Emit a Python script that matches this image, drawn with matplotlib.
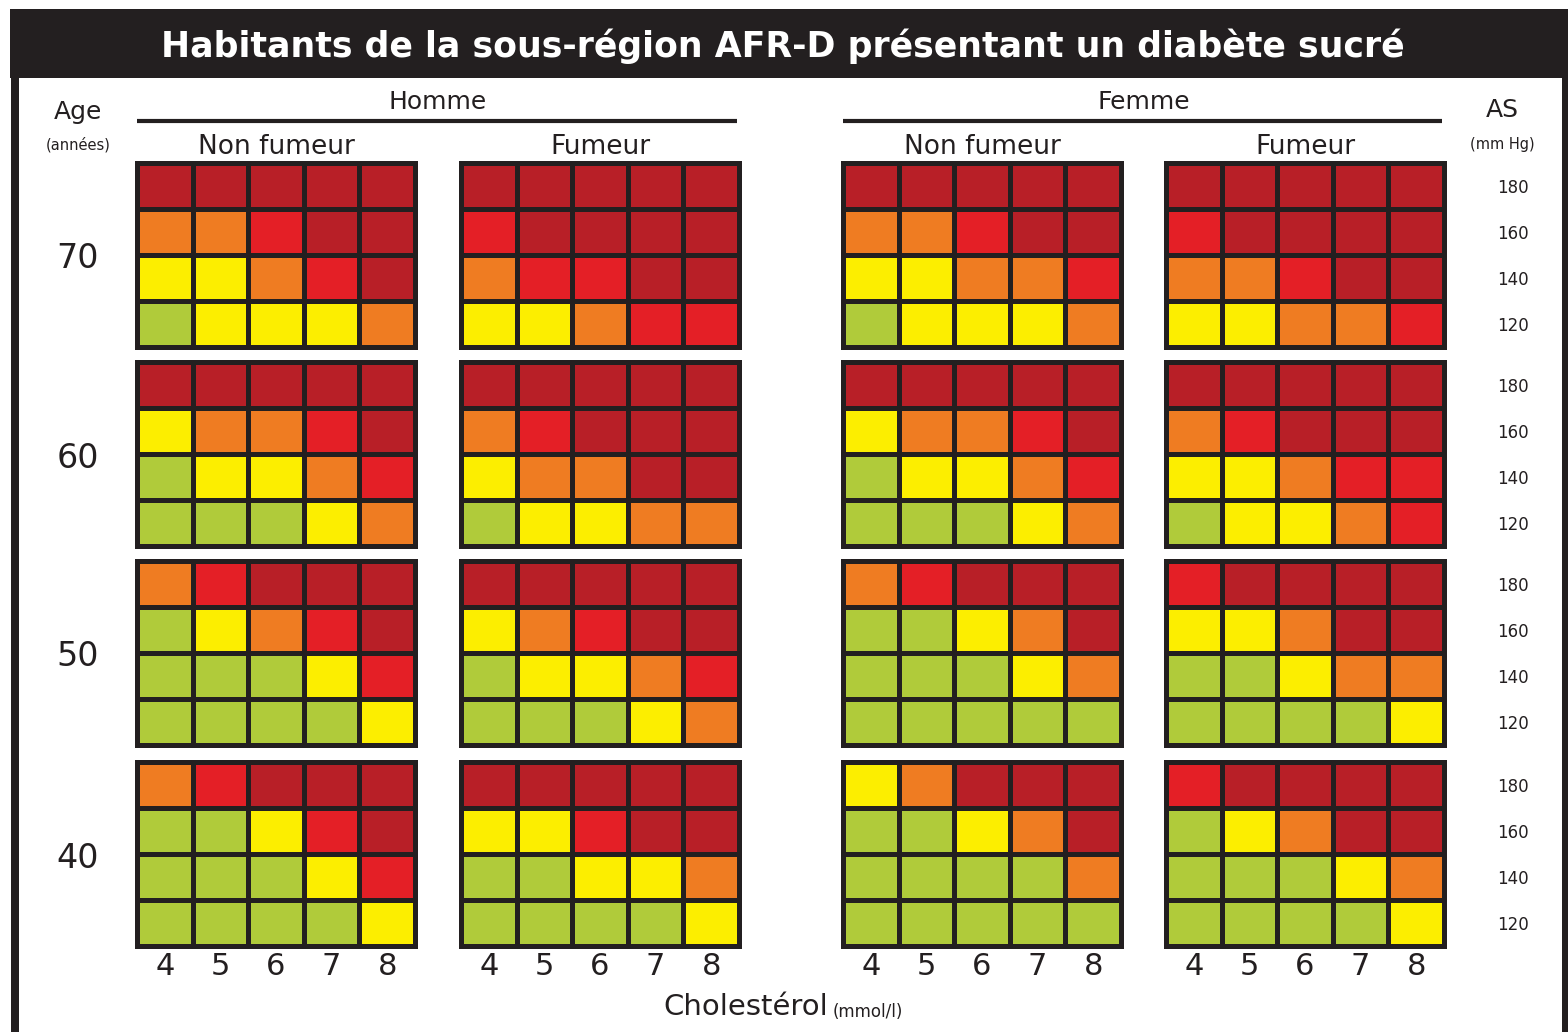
import numpy as np
import matplotlib
matplotlib.use('Agg')
import matplotlib.pyplot as plt
from matplotlib.colors import ListedColormap

# DATA
ages = [70, 60, 50, 40]
cholesterol = [4, 5, 6, 7, 8]
pression = [180, 160, 140, 120]
sexes = ['Homme', 'Femme']
tabac = ['Non fumeur', 'Fumeur']

# risk level 0..4 (green, yellow, orange, red, dark red), rows = 180..120, cols = chol 4..8
homme_non_fumeur = [
    [[4, 4, 4, 4, 4], [2, 2, 3, 4, 4], [1, 1, 2, 3, 4], [0, 1, 1, 1, 2]],
    [[4, 4, 4, 4, 4], [1, 2, 2, 3, 4], [0, 1, 1, 2, 3], [0, 0, 0, 1, 2]],
    [[2, 3, 4, 4, 4], [0, 1, 2, 3, 4], [0, 0, 0, 1, 3], [0, 0, 0, 0, 1]],
    [[2, 3, 4, 4, 4], [0, 0, 1, 3, 4], [0, 0, 0, 1, 3], [0, 0, 0, 0, 1]],
]
homme_fumeur = [
    [[4, 4, 4, 4, 4], [3, 4, 4, 4, 4], [2, 3, 3, 4, 4], [1, 1, 2, 3, 3]],
    [[4, 4, 4, 4, 4], [2, 3, 4, 4, 4], [1, 2, 2, 4, 4], [0, 1, 1, 2, 2]],
    [[4, 4, 4, 4, 4], [1, 2, 3, 4, 4], [0, 1, 1, 2, 3], [0, 0, 0, 1, 2]],
    [[4, 4, 4, 4, 4], [1, 1, 3, 4, 4], [0, 0, 1, 1, 2], [0, 0, 0, 0, 1]],
]
femme_non_fumeur = [
    [[4, 4, 4, 4, 4], [2, 2, 3, 4, 4], [1, 1, 2, 2, 3], [0, 1, 1, 1, 2]],
    [[4, 4, 4, 4, 4], [1, 2, 2, 3, 4], [0, 1, 1, 2, 3], [0, 0, 0, 1, 2]],
    [[2, 3, 4, 4, 4], [0, 0, 1, 2, 4], [0, 0, 0, 1, 2], [0, 0, 0, 0, 0]],
    [[1, 2, 4, 4, 4], [0, 0, 1, 2, 4], [0, 0, 0, 0, 2], [0, 0, 0, 0, 0]],
]
femme_fumeur = [
    [[4, 4, 4, 4, 4], [3, 4, 4, 4, 4], [2, 2, 3, 4, 4], [1, 1, 2, 2, 3]],
    [[4, 4, 4, 4, 4], [2, 3, 4, 4, 4], [1, 1, 2, 3, 3], [0, 1, 1, 2, 3]],
    [[3, 4, 4, 4, 4], [1, 1, 2, 4, 4], [0, 0, 1, 2, 2], [0, 0, 0, 0, 1]],
    [[3, 4, 4, 4, 4], [0, 1, 2, 4, 4], [0, 0, 0, 1, 2], [0, 0, 0, 0, 1]],
]
groupes = [homme_non_fumeur, homme_fumeur, femme_non_fumeur, femme_fumeur]

couleurs = ['#b0cb3a', '#fcee00', '#ef7c22', '#e41f26', '#b81f27']
noir = '#231f20'

plt.rcParams['font.family'] = ['DejaVu Sans']

W, H = 1568, 1032
fig = plt.figure(figsize=(W / 100, H / 100), dpi=100)

# background axes in pixel coords
bg = fig.add_axes([0, 0, 1, 1])
bg.set_xlim(0, W)
bg.set_ylim(H, 0)
bg.axis('off')

# frame
bg.add_patch(plt.Rectangle((10, 9), W - 10, 69, color=noir, lw=0))
bg.add_patch(plt.Rectangle((11, 9), 8, H, color=noir, lw=0))
bg.add_patch(plt.Rectangle((1562, 9), 6, H, color=noir, lw=0))
bg.text(783, 46, 'Habitants de la sous-région AFR-D présentant un diabète sucré',
        color='white', fontsize=25, fontweight='bold', ha='center', va='center')

grid_x = [137, 461, 843, 1166]
grid_y = [163, 362, 561, 762]
gw, gh = 278, 184

# headers
for i, sexe in enumerate(sexes):
    x0 = grid_x[2 * i]
    x1 = grid_x[2 * i + 1] + gw
    bg.plot([x0, x1 - 2], [121, 121], color=noir, lw=3, solid_capstyle='butt')
    bg.text((x0 + x1) / 2, 102, sexe, color=noir, fontsize=18, ha='center', va='center')
for i, gx in enumerate(grid_x):
    bg.text(gx + gw / 2, 147, tabac[i % 2], color=noir, fontsize=19, ha='center', va='center')

bg.text(78, 112, 'Age', color=noir, fontsize=18, ha='center', va='center')
bg.text(78, 145, '(années)', color=noir, fontsize=10.5, ha='center', va='center')
bg.text(1502, 110, 'AS', color=noir, fontsize=18, ha='center', va='center')
bg.text(1502, 145, '(mm Hg)', color=noir, fontsize=10.5, ha='center', va='center')

for r, age in enumerate(ages):
    bg.text(78, grid_y[r] + gh / 2 + 4, str(age), color=noir, fontsize=24,
            ha='center', va='center')

bg.text(828, 1007, 'Cholestérol', color=noir, fontsize=21, ha='right', va='center')
bg.text(833, 1012, '(mmol/l)', color=noir, fontsize=12, ha='left', va='center')

cmap = ListedColormap(couleurs)

for r in range(len(ages)):
    for g in range(len(groupes)):
        gx, gy = grid_x[g], grid_y[r]
        ax = fig.add_axes([gx / W, 1 - (gy + gh) / H, gw / W, gh / H])
        data = np.array(groupes[g][r])
        ax.pcolormesh(np.arange(len(cholesterol) + 1), np.arange(len(pression) + 1),
                      data[::-1], cmap=cmap, vmin=-0.5, vmax=4.5,
                      edgecolors=noir, linewidth=2.5)
        ax.set_xlim(0, len(cholesterol))
        ax.set_ylim(0, len(pression))
        for s in ax.spines.values():
            s.set_color(noir)
            s.set_linewidth(3.6)
        ax.set_xticks([])
        ax.set_yticks([])
        if r == len(ages) - 1:
            ax.set_xticks(np.arange(len(cholesterol)) + 0.5)
            ax.set_xticklabels([str(c) for c in cholesterol], fontsize=22, color=noir)
            ax.tick_params(axis='x', length=0, pad=4)
        if g == len(groupes) - 1:
            ax.yaxis.tick_right()
            ax.set_yticks(np.arange(len(pression)) + 0.5)
            ax.set_yticklabels([str(p) for p in pression[::-1]], fontsize=12, color=noir)
            ax.tick_params(axis='y', length=0, pad=38)
            for lab in ax.get_yticklabels():
                lab.set_horizontalalignment('left')

fig.savefig('out.png', dpi=100)
